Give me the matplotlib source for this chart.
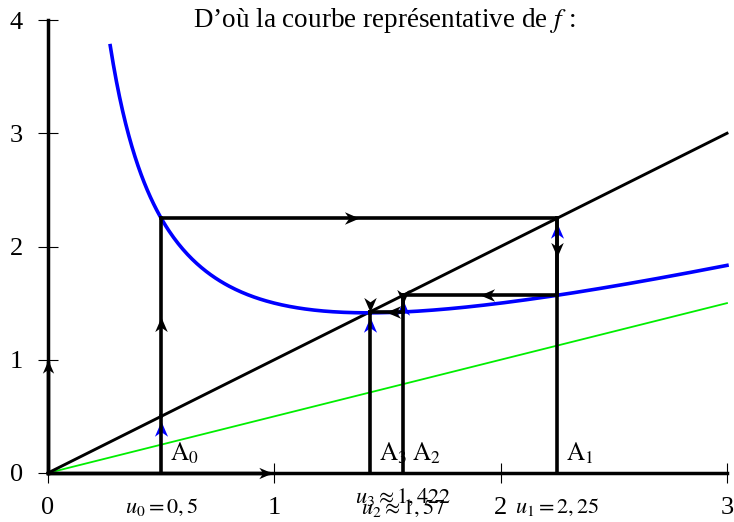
import matplotlib
import matplotlib.pyplot as plt
import numpy as np
from matplotlib.markers import MarkerStyle
from matplotlib.path import Path
from matplotlib.transforms import Affine2D

matplotlib.use("Agg")

plt.rcParams["font.family"] = ["Liberation Serif", "DejaVu Serif"]
plt.rcParams["mathtext.fontset"] = "stix"

# terms of the sequence u_{n+1} = f(u_n)
u_values = [0.5, 2.25, 1.5694, 1.4219, 1.4142]
u_labels = [r"$u_0 = 0,5$", r"$u_1 = 2,25$", r"$u_2 \approx 1,57$", r"$u_3 \approx 1,422$"]
u_label_x = [0.5, 2.25, 1.57, 1.57]
u_label_y = [-0.353, -0.353, -0.362, -0.265]
point_names = [r"$\mathrm{A}_0$", r"$\mathrm{A}_1$", r"$\mathrm{A}_2$", r"$\mathrm{A}_3$"]
x_ticks = [0, 1, 2, 3]
y_ticks = [0, 1, 2, 3, 4]
curve_start, curve_end = 0.275, 3.0
title = "D\u2019où la courbe représentative de $f$ :"


def f(x):
    return x / 2 + 1 / x


STEALTH = Path([(0, 0), (-1, 0.43), (-0.7, 0), (-1, -0.43), (0, 0)],
               [Path.MOVETO, Path.LINETO, Path.LINETO, Path.LINETO, Path.CLOSEPOLY])


def head(ax, x, y, angle, color="black", size=21, z=5):
    m = MarkerStyle(STEALTH, transform=Affine2D().rotate_deg(angle))
    ax.plot([x], [y], marker=m, ms=size, color=color, mew=0, ls="none", zorder=z)


fig = plt.figure(figsize=(7.34, 5.22), dpi=100)
ax = fig.add_axes([0, 0, 1, 1])
ax.set_xlim(-0.212, 3.031)
ax.set_ylim(-0.433, 4.177)

# axes through the origin
for side in ["top", "right"]:
    ax.spines[side].set_visible(False)
ax.spines["left"].set_position(("data", 0))
ax.spines["bottom"].set_position(("data", 0))
ax.spines["left"].set_bounds(0, 4)
ax.spines["bottom"].set_bounds(0, 3)
ax.spines["left"].set_linewidth(2.5)
ax.spines["bottom"].set_linewidth(2.5)
ax.set_xticks(x_ticks)
ax.set_yticks(y_ticks)
ax.tick_params(direction="inout", length=14.4, width=0.8, labelsize=19)
ax.tick_params(axis="x", pad=10.0)
ax.tick_params(axis="y", pad=11.0)
ax.patch.set_visible(False)

# unit vectors
ax.plot([0, 0], [0, 0.97], color="black", lw=2.5, zorder=4)
ax.plot([0, 0.97], [0, 0], color="black", lw=2.5, zorder=4)
head(ax, 0, 1.0, 90, size=19)
head(ax, 0.99, 0, 0, size=19)

# lines y = x/2, y = x and the curve of f
ax.plot([0, 3], [0, 1.5], color="#00ee00", lw=1.3, zorder=2)
ax.plot([0, 3], [0, 3], color="black", lw=2.1, zorder=3)
xs = np.linspace(curve_start, curve_end, 400)
ax.plot(xs, f(xs), color="#0000ff", lw=2.6, zorder=3)

# cobweb
n_pts = len(point_names)
for n in range(n_pts):
    un, un1 = u_values[n], u_values[n + 1]
    # vertical from the axis to the diagonal, blue head near the top
    ax.plot([un, un], [0, un], color="black", lw=2.6, zorder=5)
    head(ax, un, un - 0.045, 90, color="#0000ff", size=22, z=4)
    # vertical to the curve
    ax.plot([un, un], [un, un1], color="black", lw=2.6, zorder=5)
    head(ax, un, (un + un1) / 2, 90 if un1 > un else -90)
    # horizontal back to the diagonal
    if n < n_pts - 1:
        ax.plot([un, un1], [un1, un1], color="black", lw=2.6, zorder=5)
        head(ax, (un + un1) / 2, un1, 0 if un1 > un else 180)
    ax.text(un + 0.04, 0.11, point_names[n], fontsize=18, ha="left", va="baseline")
    ax.text(u_label_x[n], u_label_y[n], u_labels[n], fontsize=16, ha="center", va="baseline")

ax.text(1.485, 3.94, title, fontsize=19.5, ha="center", va="baseline")

fig.savefig("out.png", dpi=100)
